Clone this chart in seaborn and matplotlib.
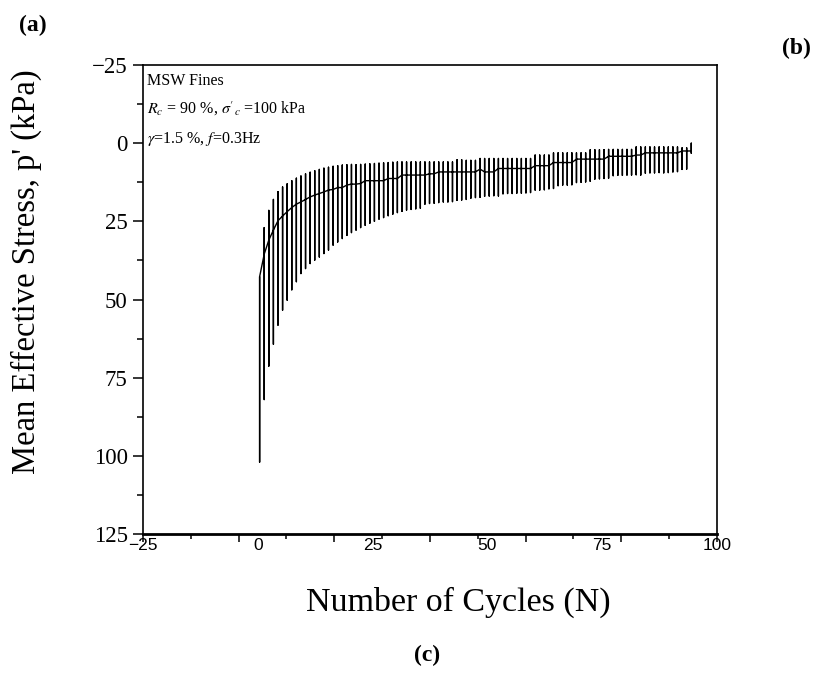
import numpy as np
import pandas as pd
import matplotlib
matplotlib.use("Agg")
import matplotlib.pyplot as plt
from matplotlib.ticker import MultipleLocator
import seaborn as sns

# cycle positions (one vertical swing per cycle)
cycles = np.arange(95) + 0.4

# p' at the peak of each cycle (smallest value, drawn highest)
p_min = [42.7, 27.0, 21.5, 18.0, 15.5, 14.0, 13.0, 12.0, 11.2, 10.5,
         9.8, 9.3, 8.8, 8.4, 8.0, 7.7, 7.4, 7.2, 7.0, 6.9,
         6.8, 6.9, 6.8, 6.7, 6.6, 6.5, 6.4, 6.3, 6.2, 6.1,
         6.0, 6.0, 6.0, 6.0, 6.0, 6.0, 6.0, 6.0, 6.0, 6.0,
         6.0, 6.0, 6.0, 5.3, 5.3, 5.5, 5.5, 5.5, 4.9, 4.9,
         4.9, 4.9, 4.9, 4.9, 4.9, 4.9, 4.9, 4.9, 4.9, 4.9,
         3.8, 3.8, 3.8, 3.8, 3.1, 3.1, 3.1, 3.1, 3.1, 3.1,
         3.1, 3.1, 2.1, 2.1, 2.1, 2.1, 2.0, 2.0, 2.0, 2.0,
         2.0, 2.0, 1.2, 1.2, 1.2, 1.2, 1.2, 1.2, 1.2, 1.2,
         1.2, 1.2, 1.5, 1.5, 0.0]

# p' at the trough of each cycle (largest value)
p_max = [102.0, 82.0, 71.3, 64.3, 58.2, 53.4, 50.2, 46.9, 44.3, 41.7,
         40.1, 38.5, 37.4, 36.4, 35.3, 34.2, 32.6, 31.6, 30.5, 29.5,
         28.6, 27.8, 27.0, 26.3, 25.6, 25.0, 24.3, 23.8, 23.2, 22.7,
         22.2, 21.8, 21.4, 21.2, 21.0, 20.8, 19.5, 19.3, 19.2, 19.0,
         18.8, 18.8, 18.7, 18.3, 18.2, 18.0, 17.6, 17.4, 17.3, 17.0,
         16.9, 16.8, 16.9, 16.2, 16.1, 16.1, 16.0, 16.0, 15.9, 15.8,
         15.0, 15.0, 14.9, 14.6, 14.5, 13.6, 13.4, 13.4, 13.3, 12.6,
         12.5, 12.4, 12.2, 11.5, 11.4, 11.3, 11.2, 10.4, 10.3, 10.3,
         10.2, 10.2, 10.1, 10.2, 9.6, 9.5, 9.5, 9.4, 9.5, 9.4,
         9.2, 9.1, 8.4, 8.3, 3.2]

# mean p' per cycle
p_mean = [42.7, 35.5, 31.0, 27.8, 24.8, 23.3, 21.9, 20.6, 19.5, 18.8,
          18.0, 17.2, 16.6, 16.1, 15.6, 15.0, 14.8, 14.2, 14.2, 13.4,
          13.1, 13.1, 12.9, 12.0, 12.0, 12.0, 12.0, 12.0, 11.3, 11.3,
          11.3, 10.2, 10.2, 10.2, 10.2, 10.2, 10.2, 9.8, 9.8, 9.2,
          9.2, 9.2, 9.2, 9.2, 9.2, 9.2, 9.2, 9.2, 8.3, 9.2,
          9.2, 9.2, 8.1, 8.1, 8.1, 8.1, 8.1, 8.1, 8.1, 8.1,
          7.2, 7.2, 7.2, 7.2, 6.2, 6.2, 6.2, 6.2, 6.2, 5.1,
          5.1, 5.1, 5.1, 5.1, 5.1, 5.1, 4.2, 4.2, 4.2, 4.2,
          4.2, 4.2, 3.8, 3.8, 3.1, 3.1, 3.1, 3.1, 3.1, 3.1,
          3.1, 3.1, 2.5, 2.5, 2.5]

x_labels = [-25, 0, 25, 50, 75, 100]

# build one continuous path: mean -> peak -> trough -> mean for every cycle
rows = []
for n, lo, hi, m in zip(cycles, p_min, p_max, p_mean):
    for p in (m, lo, hi, m):
        rows.append((n, p))
df = pd.DataFrame(rows, columns=["N", "p"])

sns.set_style("ticks")
plt.rcParams["font.family"] = ["Liberation Serif", "DejaVu Serif"]
plt.rcParams["mathtext.fontset"] = "stix"
plt.rcParams["axes.unicode_minus"] = True
for key in ["text.color", "axes.labelcolor", "xtick.color", "ytick.color",
            "axes.edgecolor"]:
    plt.rcParams[key] = "black"

fig = plt.figure(figsize=(8.18, 6.77), dpi=100)
ax = fig.add_axes([0.1748, 0.2112, 0.7017, 0.6928])

sns.lineplot(data=df, x="N", y="p", sort=False, estimator=None,
             color="black", linewidth=1.0, ax=ax)

ax.set_xlim(-25, 100)
ax.set_ylim(125, -25)

# y axis
ax.yaxis.set_major_locator(MultipleLocator(25))
ax.yaxis.set_minor_locator(MultipleLocator(12.5))
ax.tick_params(axis="y", which="major", direction="out", length=7, width=1.1,
               labelsize=16.5, pad=4)
ax.tick_params(axis="y", which="minor", direction="out", length=4.5, width=1.1)

# x axis: tick marks as in the source figure, labels through a secondary axis
ax.set_xticks(np.linspace(-25, 100, 7))
ax.set_xticks(np.linspace(-25, 100, 13), minor=True)
ax.set_xticklabels([])
ax.tick_params(axis="x", which="major", direction="out", length=5.5, width=1.1)
ax.tick_params(axis="x", which="minor", direction="out", length=3.5, width=1.1)

sec = ax.secondary_xaxis("bottom")
sec.set_xticks(x_labels)
sec.set_xticklabels(["\u221225", "0", "25", "50", "75", "100"],
                    family="Liberation Sans", fontsize=12.5, color="black")
sec.tick_params(length=0, pad=3)
sec.spines["bottom"].set_visible(False)

for side in ["left", "top", "right"]:
    ax.spines[side].set_visible(True)
    ax.spines[side].set_linewidth(1.2)
    ax.spines[side].set_color("black")
ax.spines["bottom"].set_linewidth(2.0)
ax.spines["bottom"].set_color("black")

ax.set_ylabel("Mean Effective Stress, p' (kPa)", fontsize=23.5)
ax.yaxis.set_label_coords(-0.176, 0.559)
ax.set_xlabel("Number of Cycles (N)", fontsize=24.5)
ax.xaxis.set_label_coords(0.549, -0.112)

ax.text(0.007, 0.957, "MSW Fines", transform=ax.transAxes, fontsize=11.5,
        va="baseline")
ax.text(0.007, 0.897, r"$R_c$ = 90 %, $\sigma'_c$ =100 kPa",
        transform=ax.transAxes, fontsize=11.5, va="baseline")
ax.text(0.007, 0.834, r"$\gamma$=1.5 %, $f$=0.3Hz",
        transform=ax.transAxes, fontsize=11.5, va="baseline")

fig.text(0.040, 0.963, "(a)", fontsize=17, fontweight="bold",
         ha="center", va="center")
fig.text(0.974, 0.928, "(b)", fontsize=17, fontweight="bold",
         ha="center", va="center")
fig.text(0.522, 0.032, "(c)", fontsize=17, fontweight="bold",
         ha="center", va="center")

fig.savefig("out.png", dpi=100)
